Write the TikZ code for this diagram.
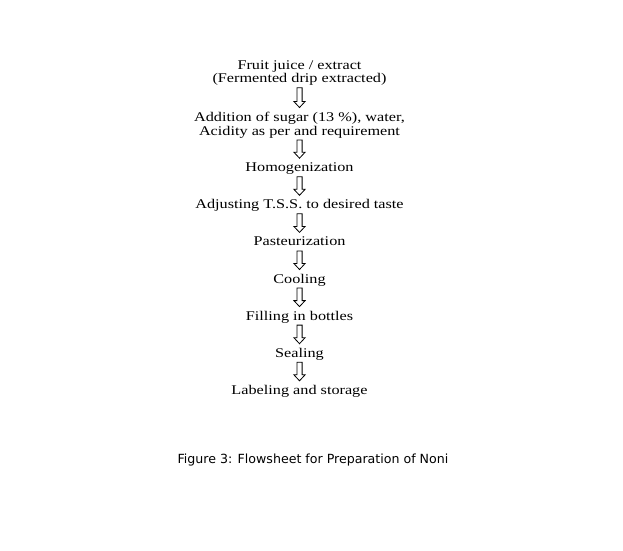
\documentclass[tikz,border=0pt]{standalone}
\usepackage{fontspec}
\setmainfont{Liberation Serif}
\newfontfamily\capfont{DejaVu Sans}
\usetikzlibrary{calc}
\tikzset{
  stepbox/.style={anchor=base, inner sep=0pt, xscale=1.22, transform shape, font=\fontsize{13.3}{15}\selectfont},
  caption/.style={anchor=base, inner sep=0pt, font=\capfont\fontsize{12.6}{14}\selectfont},
  hollow/.style={draw=black, line width=0.8pt, fill=white, line join=miter},
}
\newcommand{\harrow}[2]{%
  \draw[hollow] let \p1=($(#1.base)+(0,5)$), \p2=($(#2.base)+(0,-13.5)$) in
    (\x1-2.6pt,\y1) -- (\x1+2.6pt,\y1) -- (\x1+2.6pt,\y2+6pt) -- (\x1+5.6pt,\y2+6pt)
    -- (\x1,\y2) -- (\x1-5.6pt,\y2+6pt) -- (\x1-2.6pt,\y2+6pt) -- cycle;
}
\begin{document}
\begin{tikzpicture}[x=1pt,y=-1pt]
\useasboundingbox (0,0) rectangle (623,550);
\node[stepbox] (s1a) at (299.5,69.3) {Fruit juice / extract};
\node[stepbox] (s1) at (299.5,82.7) {(Fermented drip extracted)};
\node[stepbox] (s2a) at (299.5,121) {Addition of sugar (13 \%), water,};
\node[stepbox] (s2) at (299.5,135) {Acidity as per and requirement};
\node[stepbox] (s3) at (299.5,171.7) {Homogenization};
\node[stepbox] (s4) at (299.5,208.8) {Adjusting T.S.S. to desired taste};
\node[stepbox] (s5) at (299.5,245.9) {Pasteurization};
\node[stepbox] (s6) at (299.5,283) {Cooling};
\node[stepbox] (s7) at (299.5,320.1) {Filling in bottles};
\node[stepbox] (s8) at (299.5,357.2) {Sealing};
\node[stepbox] (s9) at (299.5,394.3) {Labeling and storage};
\node[caption] (cap) at (313,463) {Figure 3: Flowsheet for Preparation of Noni};
\harrow{s1}{s2a}
\harrow{s2}{s3}
\harrow{s3}{s4}
\harrow{s4}{s5}
\harrow{s5}{s6}
\harrow{s6}{s7}
\harrow{s7}{s8}
\harrow{s8}{s9}
\end{tikzpicture}
\end{document}
